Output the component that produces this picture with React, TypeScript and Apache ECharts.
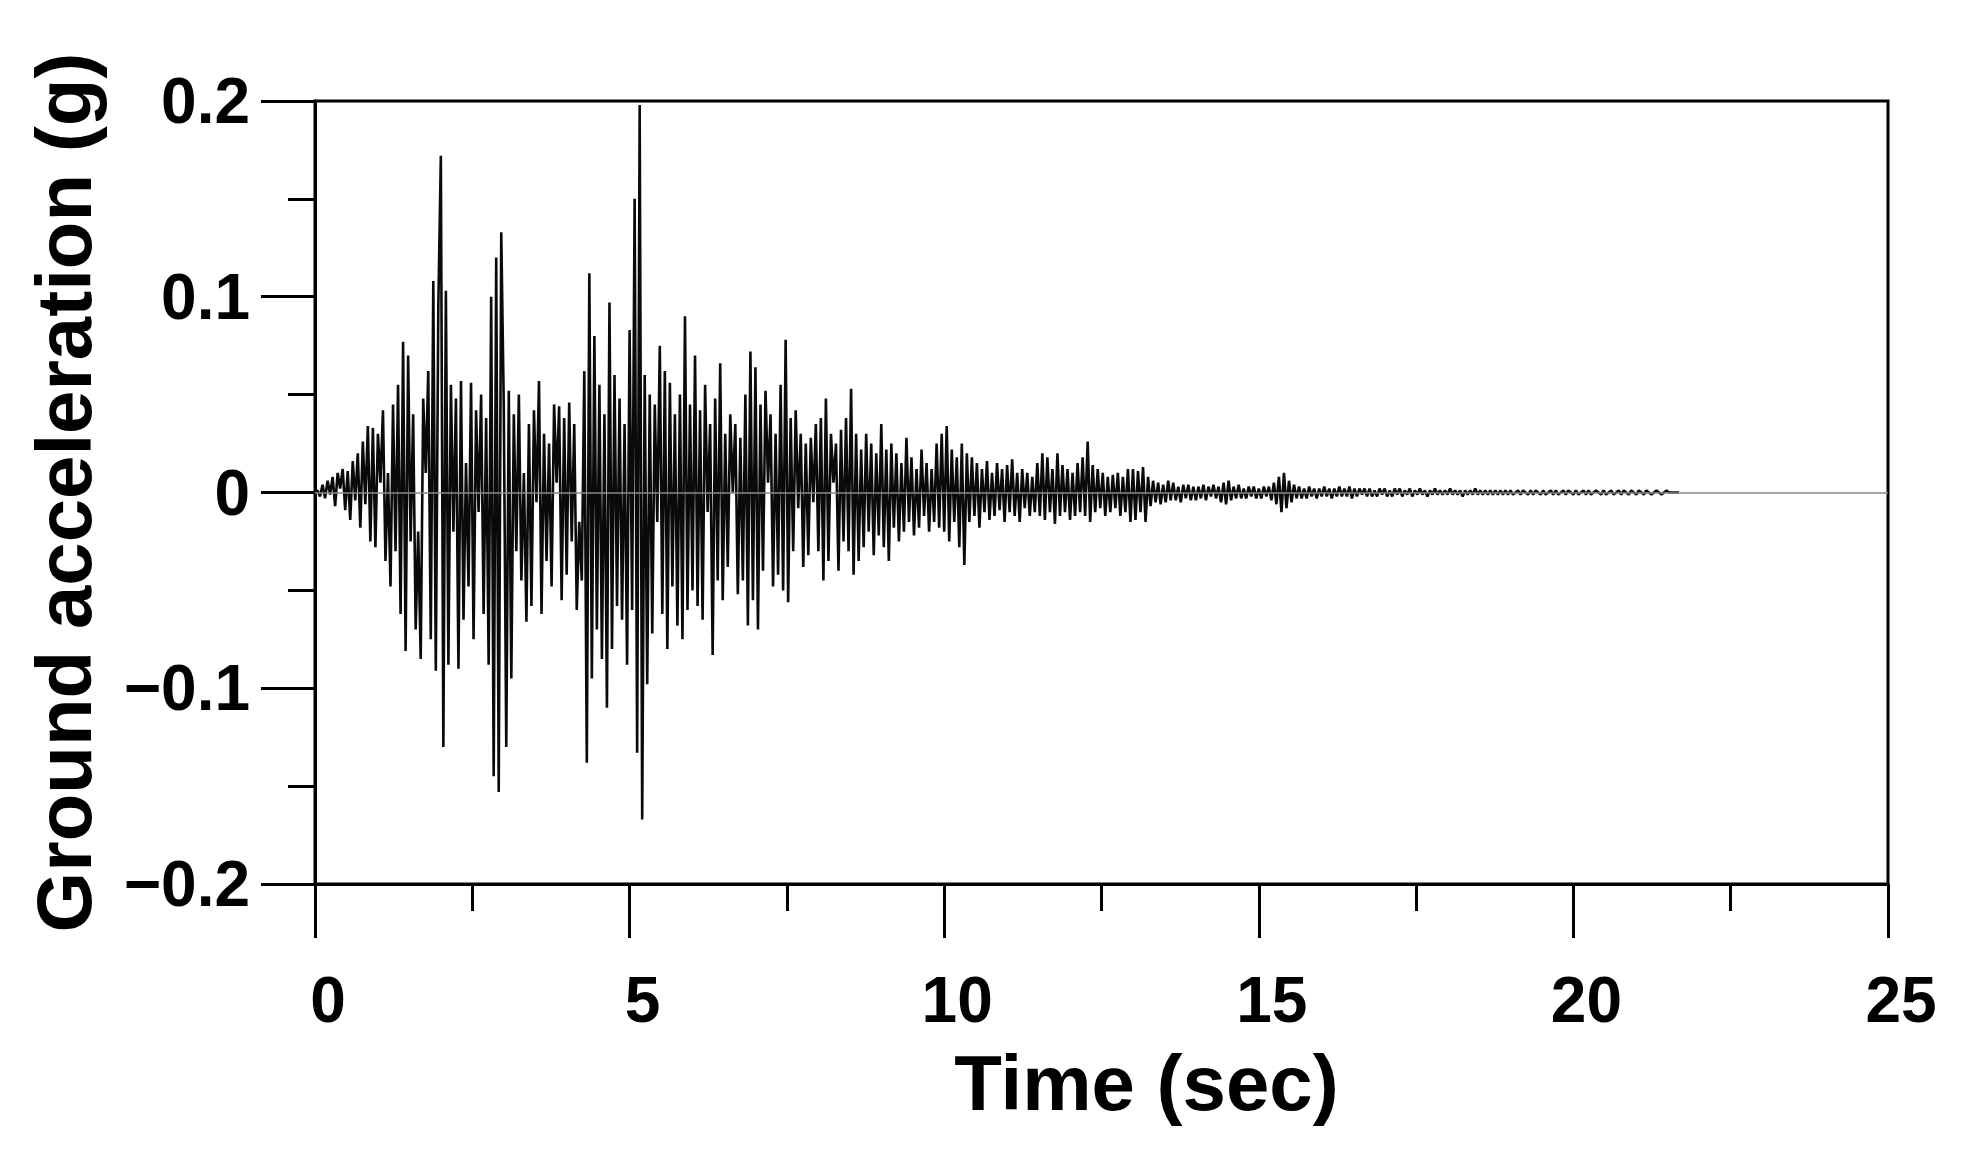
import React, { useEffect, useRef } from "react";
import * as echarts from "echarts";

// Sampling step of the record (s)
const DT = 0.04;

// Ground acceleration, in milli-g, one row per second (25 samples / s)
const accMilliG: number[] = [
  // 0 s
  0, 1, -2, 4, -3, 6, -1, 8, -7, 10, 2, 12, -9, 11, -14, 16, -4, 20, -18, 26, -6, 34, -25, 33, -28,
  // 1 s
  30, 5, 42, -35, 10, -48, 45, -30, 55, -62, 77, -81, 70, -25, 40, -70, -20, -85, 48, 10, 62, -75, 108, -91, 95,
  // 2 s
  172, -130, 103, -88, 55, -20, 48, -90, 57, -65, 15, -48, 56, -75, 42, -10, 50, -62, 38, -88, 100, -145, 120, -153, 133,
  // 3 s
  45, -130, 52, -95, 40, -30, 50, -45, 10, -66, 35, -58, 42, -5, 57, -62, 30, -35, 25, -48, 45, 5, 44, -55, 38,
  // 4 s
  -42, 46, -25, 35, -60, -15, -45, 62, -138, 112, -95, 80, -70, 55, -85, 40, -110, 97, -80, 60, -58, 48, -65, 35, -88,
  // 5 s
  83, -60, 150, -133, 198, -167, 60, -98, 50, -72, 45, -15, 75, -62, 62, -80, 56, -48, 40, -68, 50, -75, 90, -60, 45,
  // 6 s
  -50, 70, -58, 42, -65, 55, -10, 35, -83, 48, -45, 66, -55, 30, -38, 40, 0, 35, -52, 28, -45, 50, -68, 72, -55,
  // 7 s
  64, -70, 45, -40, 52, 5, 40, -48, 30, -42, 55, -50, 78, -56, 38, -30, 42, -8, 30, -38, 25, -32, 28, -5, 35,
  // 8 s
  -30, 38, -45, 48, -35, 30, 5, 25, -40, 32, -25, 38, -30, 53, -42, 30, -35, 22, -28, 30, -20, 25, -32, 20, -22,
  // 9 s
  35, -28, 22, -35, 25, -18, 20, -25, 15, -20, 28, -15, 18, -22, 12, -18, 22, -12, 15, -20, 12, -15, 25, -18, 30,
  // 10 s
  -20, 34, -25, 22, -15, 18, -28, 25, -37, 20, -15, 18, -12, 15, -18, 12, -10, 16, -14, 10, -12, 15, -9, 12, -15,
  // 11 s
  14, -10, 17, -12, 10, -15, 12, -8, 10, -12, 8, -10, 15, -12, 20, -14, 18, -10, 12, -16, 20, -12, 14, -10, 12,
  // 12 s
  -14, 10, -12, 15, -10, 18, -12, 26, -15, 14, -10, 12, -8, 10, -12, 8, -10, 9, -8, 10, -12, 8, -10, 12, -15,
  // 13 s
  12, -14, 11, -10, 13, -15, 8, -7, 6, -5, 5, -6, 4, -5, 6, -4, 5, -4, 3, -5, 4, -3, 4, -4, 3,
  // 14 s
  -4, 3, -3, 4, -4, 3, -2, 4, -3, 3, -5, 5, -6, 6, -4, 3, -3, 4, -3, 2, -3, 3, -2, 3, -3,
  // 15 s
  2, -3, 3, -2, 3, -4, 5, -6, 8, -10, 10, -8, 6, -5, 4, -3, 3, -3, 2, -3, 3, -2, 2, -3, 2,
  // 16 s
  -2, 3, -2, 2, -3, 2, -2, 3, -2, 2, -2, 3, -3, 2, -2, 2, -1, 2, -2, 2, -2, 1, -2, 2, -1,
  // 17 s
  2, -2, 1, -2, 2, -1, 2, -2, 1, -1, 2, -2, 1, -1, 2, -1, 1, -2, 1, -1, 2, -1, 1, -1, 1,
  // 18 s
  -1, 2, -1, 1, -1, 1, -2, 1, -1, 1, -1, 2, -1, 1, -1, 1, -1, 1, -1, 1, -1, 1, -1, 1, -1,
  // 19 s
  1, -1, 0, 1, -1, 1, 0, -1, 1, -1, 1, 0, -1, 1, -1, 0, 1, -1, 1, -1, 0, 1, -1, 1, 0,
  // 20 s
  -1, 1, -1, 0, 1, -1, 1, -1, 0, 1, 0, -1, 1, -1, 0, 1, -1, 0, 1, -1, 1, 0, -1, 1, 0,
  // 21 s
  -1, 1, 0, -1, 1, 0, -1, 0, 1, 0, -1, 0, 1, 0, 0, 0, 0, 0,
];

const xTicks = [0, 5, 10, 15, 20, 25];
const yTicks = [-0.2, -0.1, 0, 0.1, 0.2];
const xTitle = "Time (sec)";
const yTitle = "Ground acceleration (g)";

const FONT = "'Liberation Sans', Arial, Helvetica, sans-serif";

export default function App() {
  const ref = useRef<HTMLDivElement | null>(null);

  useEffect(() => {
    if (!ref.current) return;
    const chart = echarts.init(ref.current, undefined, { renderer: "svg" });
    const data = accMilliG.map((v, i) => [Number((i * DT).toFixed(2)), v / 1000]);

    const fmtY = (v: number) => {
      const r = Math.round(v * 10) / 10;
      if (r === 0) return "0";
      return r < 0 ? "\u2212" + Math.abs(r).toFixed(1) : r.toFixed(1);
    };

    chart.setOption({
      animation: false,
      backgroundColor: "#ffffff",
      grid: {
        left: 315,
        right: 80,
        top: 101,
        bottom: 276,
        show: true,
        borderColor: "#000",
        borderWidth: 3,
        containLabel: false,
      },
      xAxis: {
        type: "value",
        min: xTicks[0],
        max: xTicks[xTicks.length - 1],
        interval: 5,
        name: xTitle,
        nameLocation: "middle",
        nameGap: 160,
        nameTextStyle: {
          fontFamily: FONT,
          fontWeight: "bold",
          fontSize: 78,
          color: "#000",
          padding: [0, 0, 0, 90],
        },
        axisLine: { show: true, onZero: false, lineStyle: { color: "#000", width: 3 } },
        axisTick: { show: true, length: 54, lineStyle: { color: "#000", width: 3 } },
        minorTick: { show: true, splitNumber: 2, length: 27, lineStyle: { color: "#000", width: 3 } },
        splitLine: { show: false },
        minorSplitLine: { show: false },
        axisLabel: {
          fontFamily: FONT,
          fontWeight: "bold",
          fontSize: 64,
          color: "#000",
          margin: 84,
          padding: [0, 0, 0, 26],
        },
      },
      yAxis: {
        type: "value",
        min: yTicks[0],
        max: yTicks[yTicks.length - 1],
        interval: 0.1,
        name: yTitle,
        nameLocation: "middle",
        nameGap: 212,
        nameTextStyle: {
          fontFamily: FONT,
          fontWeight: "bold",
          fontSize: 78,
          color: "#000",
        },
        axisLine: { show: true, onZero: false, lineStyle: { color: "#000", width: 3 } },
        axisTick: { show: true, length: 54, lineStyle: { color: "#000", width: 3 } },
        minorTick: { show: true, splitNumber: 2, length: 27, lineStyle: { color: "#000", width: 3 } },
        splitLine: { show: false },
        minorSplitLine: { show: false },
        axisLabel: {
          fontFamily: FONT,
          fontWeight: "bold",
          fontSize: 64,
          color: "#000",
          margin: 65,
          formatter: fmtY,
        },
      },
      series: [
        {
          type: "line",
          data,
          showSymbol: false,
          symbol: "none",
          lineStyle: { color: "#0a0a0a", width: 2.6 },
          markLine: {
            silent: true,
            symbol: ["none", "none"],
            label: { show: false },
            lineStyle: { color: "#8a8a8a", width: 1.5, type: "solid" },
            data: [{ yAxis: 0 }],
          },
          z: 3,
        },
      ],
    });

    return () => chart.dispose();
  }, []);

  return (
    <div
      ref={ref}
      style={{
        position: "fixed",
        left: 0,
        top: 0,
        width: "1968px",
        height: "1160px",
        background: "#fff",
      }}
    />
  );
}
